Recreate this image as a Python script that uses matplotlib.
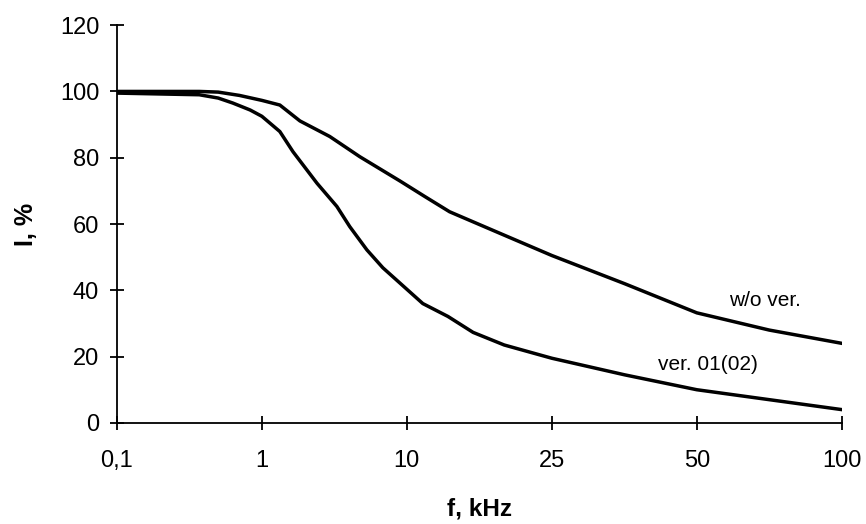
import numpy as np
import matplotlib
matplotlib.use("Agg")
import matplotlib.pyplot as plt

plt.rcParams['font.family'] = ['Liberation Sans', 'DejaVu Sans']

# category ticks on the frequency axis (equally spaced, like an Excel line chart)
freq_ticks = [0.1, 1, 10, 25, 50, 100]
freq_tick_labels = ['0,1', '1', '10', '25', '50', '100']

# curve without verification (w/o ver.)
f_nover = [0.1, 0.37, 0.5, 0.7, 1.0, 1.33, 1.83, 2.94, 4.74, 8.95, 11.2,
           13.1, 18.0, 25, 35.4, 50, 70.7, 100]
i_nover = [100, 100, 99.8, 98.8, 97.3, 95.9, 91.1, 86.4, 80.3, 73, 68.3,
           63.7, 57.2, 50.5, 42, 33.2, 28, 24]

# curve ver. 01(02)
f_ver = [0.1, 0.37, 0.5, 0.63, 0.83, 1.0, 1.33, 1.64, 2.4, 3.29, 4.04, 5.3, 6.83,
         8.95, 11.06, 12.97, 15.2, 18.5, 25, 35.4, 50, 70.7, 100]
i_ver = [99.5, 99, 98, 96.5, 94.4, 92.5, 87.9, 81.8, 72.3, 65.3, 59.2, 52.2, 46.8,
         42.2, 36, 32.1, 27.3, 23.5, 19.5, 14.5, 10, 7, 4]

log_ticks = np.log10(freq_ticks)
idx = np.arange(len(freq_ticks))


def forward(f):
    return np.interp(np.log10(np.clip(f, 1e-6, None)), log_ticks, idx)


def inverse(p):
    return 10 ** np.interp(p, idx, log_ticks)


fig = plt.figure(figsize=(8.66, 5.24), dpi=100)
ax = fig.add_axes([0.135, 0.193, 0.837, 0.759])
ax.set_xscale('function', functions=(forward, inverse))

ax.plot(f_nover, i_nover, color='black', lw=2.5, solid_joinstyle='round')
ax.plot(f_ver, i_ver, color='black', lw=2.5, solid_joinstyle='round')

ax.set_xlim(0.1, 100)
ax.set_ylim(0, 120)
ax.set_xticks(freq_ticks)
ax.set_xticklabels(freq_tick_labels)
ax.minorticks_off()
ax.set_yticks(range(0, 121, 20))

for s in ['top', 'right']:
    ax.spines[s].set_visible(False)
for s in ['left', 'bottom']:
    ax.spines[s].set_linewidth(1.3)

ax.tick_params(axis='both', direction='inout', length=9.5, width=1.3, labelsize=17)
ax.tick_params(axis='y', pad=8)
ax.tick_params(axis='x', pad=15)

ax.set_xlabel('f, kHz', fontsize=17.5, fontweight='bold', labelpad=18)
ax.set_ylabel('I, %', fontsize=18, fontweight='bold', labelpad=16)

ax.text(69.3, 37, 'w/o ver.', fontsize=15, ha='center', va='center')
ax.text(52.7, 17.5, 'ver. 01(02)', fontsize=15, ha='center', va='center')

fig.savefig('out.png', dpi=100)
